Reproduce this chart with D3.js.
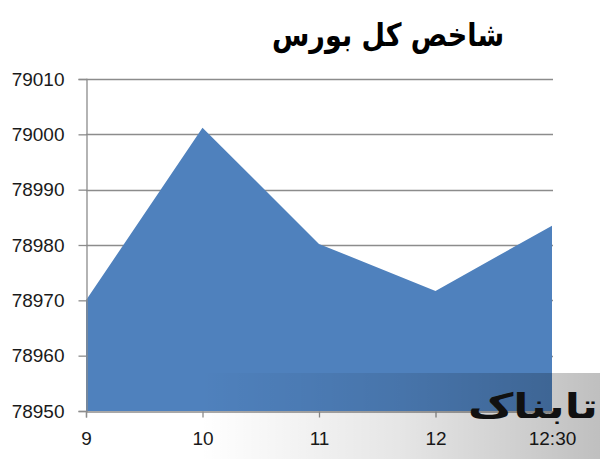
<!DOCTYPE html>
<html><head><meta charset="utf-8">
<script src="https://cdn.jsdelivr.net/npm/d3@7"></script>
<style>body{margin:0;background:#fff}svg{display:block}</style>
</head><body>
<script>
const title = "شاخص کل بورس";
const categories = ["9", "10", "11", "12", "12:30"];
const values = [78970, 79001.2, 78980.2, 78971.7, 78983.5];
const yTicks = [78950, 78960, 78970, 78980, 78990, 79000, 79010];
const watermark = "تابناک";

const W = 600, H = 459;
const svg = d3.select("body").append("svg").attr("width", W).attr("height", H);

const x = d3.scalePoint().domain(categories).range([86, 552]);
const y = d3.scaleLinear().domain([78950, 79010]).range([411, 79]);

// gridlines
svg.append("g").selectAll("line").data(yTicks.slice(1)).join("line")
  .attr("x1", 86).attr("x2", 553)
  .attr("y1", d => Math.round(y(d)) + 0.5).attr("y2", d => Math.round(y(d)) + 0.5)
  .attr("stroke", "#8c8c8c").attr("stroke-width", 1.3);

// area
const area = d3.area().x(d => x(d.c)).y0(y(78950)).y1(d => y(d.v));
svg.append("path").datum(categories.map((c, i) => ({c, v: values[i]})))
  .attr("d", area).attr("fill", "#4f81bd");

// y axis
const yAxis = d3.axisLeft(y).tickValues(yTicks).tickSize(8).tickPadding(14).tickFormat(d3.format("d"));
const gy = svg.append("g").attr("transform", "translate(86.5,0)").call(yAxis);
gy.select(".domain").attr("stroke", "#8c8c8c").attr("stroke-width", 1.3);
gy.selectAll(".tick line").attr("stroke", "#8c8c8c").attr("stroke-width", 1.3);
gy.selectAll("text").attr("font-family", "Liberation Sans, Arial, sans-serif").attr("font-size", 19).attr("fill", "#1a1a1a");

// x axis
const xAxis = d3.axisBottom(x).tickSize(6).tickPadding(14);
const gx = svg.append("g").attr("transform", "translate(0,411.5)").call(xAxis);
gx.select(".domain").attr("stroke", "#8c8c8c").attr("stroke-width", 1.3);
gx.selectAll(".tick line").attr("stroke", "#8c8c8c").attr("stroke-width", 1.3);
gx.selectAll("text").attr("font-family", "Liberation Sans, Arial, sans-serif").attr("font-size", 19).attr("fill", "#1a1a1a");

// title
svg.append("text").attr("x", 388).attr("y", 46).attr("text-anchor", "middle")
  .attr("font-family", "DejaVu Sans, sans-serif").attr("font-weight", "bold")
  .attr("font-size", 32).attr("fill", "#000")
  .attr("textLength", 232).attr("lengthAdjust", "spacingAndGlyphs")
  .text(title);

// watermark band
const defs = svg.append("defs");
const g = defs.append("linearGradient").attr("id", "wm").attr("x1", "0").attr("x2", "1").attr("y1", "0").attr("y2", "0");
g.append("stop").attr("offset", "0").attr("stop-color", "#000").attr("stop-opacity", 0);
g.append("stop").attr("offset", "0.5").attr("stop-color", "#000").attr("stop-opacity", 0.1);
g.append("stop").attr("offset", "1").attr("stop-color", "#000").attr("stop-opacity", 0.25);
svg.append("rect").attr("x", 200).attr("y", 373).attr("width", 400).attr("height", 86).attr("fill", "url(#wm)");

svg.append("text").attr("x", 598).attr("y", 418).attr("text-anchor", "end")
  .attr("font-family", "DejaVu Sans, sans-serif").attr("font-weight", "bold")
  .attr("font-size", 34).attr("fill", "#111")
  .attr("textLength", 130).attr("lengthAdjust", "spacingAndGlyphs")
  .text(watermark);
</script>
</body></html>
